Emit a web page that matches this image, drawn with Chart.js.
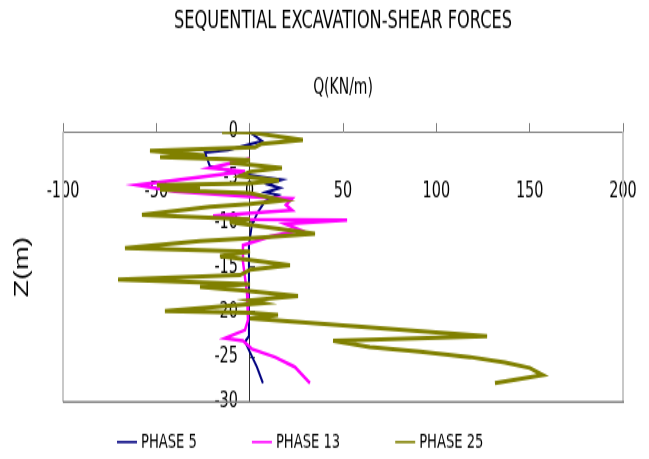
<!DOCTYPE html>
<html>
<head>
<meta charset="utf-8">
<script src="https://cdn.jsdelivr.net/npm/chart.js@4.4.1/dist/chart.umd.min.js"></script>
<style>
  html { margin: 0; padding: 0; background: #fff; overflow: hidden; }
  body { margin: 0; padding: 0; background: #fff; width: 649px; height: 459px; }
  /* the chart is laid out on a shorter canvas and stretched vertically */
  #wrap { width: 649px; height: 328px; transform: scaleY(1.39939); transform-origin: 0 0; }
</style>
</head>
<body>
<div id="wrap"><canvas id="c" width="649" height="328"></canvas></div>
<script>
// Shear force Q (kN/m) against depth Z (m) for three excavation phases
const phase5Depth = [0, -1, -2, -2.3, -3.8, -4.7, -5, -5.3, -5.8, -6.2, -6.7, -7, -7.7, -8.9, -10.3, -12.6, -18.7, -22.7, -23.3, -24.4, -26.1, -27.9];
const phase5Shear = [0, 6.6, -11.6, -23.9, -21.3, -2.5, 6.6, 17.3, 9.8, 16.2, 8.7, 15.2, 8.2, 4.4, 1.2, -0.4, -0.4, -0.4, -2.5, 0, 3.9, 7.1];

const phase13Depth = [-3, -4, -4.4, -5.9, -6.6, -7.2, -7.4, -8.1, -8.7, -8.9, -9.3, -9.7, -9.8, -10.2, -10.9, -11.6, -12.6, -14.4, -17.9, -20.9, -22, -22.9, -23.2, -24.1, -25, -26.1, -27.9];
const phase13Shear = [0, -21.2, -2.5, -60.3, -40, 0, 22.7, 19.4, 22.7, 8.7, -19.6, 0, 52.2, 19, 27, 10.9, -3.6, -3.6, -1.4, -0.9, -2.5, -13.2, -3.6, 1.2, 13.5, 24.2, 32.3];

const phase25Depth = [0, -0.05, -0.9, -1.3, -1.7, -2.1, -2.6, -2.8, -3.1, -3.4, -4.0, -4.4, -4.9, -5.4, -5.7, -5.9, -6.2, -6.4, -6.8, -7.6, -8.0, -8.3, -9.2, -9.7, -10.0, -11.3, -11.8, -12.1, -12.9, -13.3, -13.8, -14.8, -15.3, -15.9, -16.4, -16.9, -17.2, -17.6, -18.2, -18.7, -19.0, -19.9, -20.1, -20.3, -20.7, -22.7, -23.2, -23.9, -24.4, -25.0, -25.6, -26.2, -27.0, -27.9];
const phase25Shear = [-14.8, 0.2, 28.5, 6.6, 2.8, -53.4, -23.9, -48, 0.2, -10.6, 17.3, 0.2, -5.2, 15.7, 0.2, -49.7, -26.6, -48, 0.2, 17.8, 0.2, -21.2, -57.7, 0.2, -10.6, 35, 0.2, -26.6, -66.8, 0.2, -15.9, 21.6, 0.2, -5.2, -70.5, 0.2, -26.6, -4.1, 25.9, 0.2, 7.1, -45.4, 0.2, 15.2, 0.2, 127.2, 44.7, 64.4, 91.2, 118, 136.8, 150, 157.1, 131.4];

const seriesNames = ['PHASE 5', 'PHASE 13', 'PHASE 25'];
const seriesColors = ['#000080', '#ff00ff', '#808000'];

const xTickStep = 50;
const yTickStep = 5;

const NARROW = "'DejaVu Sans Condensed', 'Liberation Sans Narrow', sans-serif";

function toPoints(depth, shear) {
  return depth.map((z, i) => ({ x: shear[i], y: z }));
}

// plot frame: light side borders and a darker base line
const framePlugin = {
  id: 'frame',
  beforeDatasetsDraw(chart) {
    const { ctx, chartArea: a } = chart;
    ctx.save();
    ctx.lineWidth = 2;
    ctx.strokeStyle = '#c8c8c8';
    ctx.beginPath();
    ctx.moveTo(a.left, a.top); ctx.lineTo(a.left, a.bottom);
    ctx.moveTo(a.right, a.top); ctx.lineTo(a.right, a.bottom);
    ctx.stroke();
    ctx.lineWidth = 1.5;
    ctx.strokeStyle = '#808080';
    ctx.beginPath();
    ctx.moveTo(a.left, a.bottom); ctx.lineTo(a.right + 1, a.bottom);
    ctx.stroke();
    ctx.restore();
  }
};

// series key under the plot
const keyPlugin = {
  id: 'seriesKey',
  afterDraw(chart) {
    const { ctx, chartArea: a } = chart;
    const y = chart.height - 12.1;
    let x = a.left + 54;
    ctx.save();
    ctx.font = "14.6px " + NARROW;
    ctx.textBaseline = 'middle';
    ctx.textAlign = 'left';
    chart.data.datasets.forEach(ds => {
      ctx.strokeStyle = ds.borderColor;
      ctx.lineWidth = 1.6;
      ctx.beginPath();
      ctx.moveTo(x, y); ctx.lineTo(x + 20, y);
      ctx.stroke();
      ctx.fillStyle = '#000';
      ctx.fillText(ds.label, x + 24, y);
      x += 24 + ctx.measureText(ds.label).width + 55;
    });
    ctx.restore();
  }
};

const datasets = [
  { label: seriesNames[0], data: toPoints(phase5Depth, phase5Shear), borderColor: seriesColors[0], borderWidth: 2, order: 3 },
  { label: seriesNames[1], data: toPoints(phase13Depth, phase13Shear), borderColor: seriesColors[1], borderWidth: 2.5, order: 2 },
  { label: seriesNames[2], data: toPoints(phase25Depth, phase25Shear), borderColor: seriesColors[2], borderWidth: 3, order: 1 }
].map(d => Object.assign(d, {
  showLine: true, pointRadius: 0, pointHoverRadius: 0, tension: 0, fill: false,
  backgroundColor: d.borderColor, xAxisID: 'x', yAxisID: 'y'
}));

new Chart(document.getElementById('c'), {
  type: 'scatter',
  data: { datasets },
  options: {
    responsive: false,
    animation: false,
    events: [],
    layout: { padding: { top: 0, right: 26, bottom: 40.7, left: 0 } },
    plugins: {
      legend: { display: false },
      tooltip: { enabled: false },
      title: {
        display: true,
        text: 'SEQUENTIAL EXCAVATION-SHEAR FORCES',
        color: '#000',
        fullSize: false,
        font: { family: NARROW, size: 18, weight: 'normal' },
        padding: { top: 4.9, bottom: 13.5 }
      }
    },
    scales: {
      x: {
        type: 'linear',
        position: 'top',
        min: -100,
        max: 200,
        ticks: { stepSize: xTickStep, mirror: true, padding: 33.2, color: '#000', font: { family: NARROW, size: 16 } },
        grid: { drawOnChartArea: false, drawTicks: true, tickLength: 6.4, color: '#7f7f7f' },
        border: { display: true, color: '#7f7f7f', width: 1 },
        title: { display: true, text: 'Q(KN/m)', color: '#000', font: { family: NARROW, size: 15.5 }, padding: { top: 14, bottom: 0 } },
        afterFit(s) { s.height = 54.3; s.paddingLeft = 0; s.paddingRight = 0; }
      },
      y: {
        type: 'linear',
        position: { x: 0 },
        min: -30,
        max: 0,
        ticks: { stepSize: yTickStep, color: '#000', font: { family: NARROW, size: 16 }, callback: v => v + '\u2002 ' },
        grid: { drawOnChartArea: false, drawTicks: true, tickLength: -6, color: '#555' },
        border: { display: true, color: '#333', width: 1 }
      },
      yTitle: {
        type: 'linear',
        position: 'left',
        min: -30,
        max: 0,
        ticks: { display: false },
        grid: { display: false, drawTicks: false },
        border: { display: false },
        title: { display: true, text: 'Z(m)', color: '#000', font: { family: "'Liberation Sans', Arial, sans-serif", size: 20.5 }, padding: { top: 9.7, bottom: 0 } },
        afterFit(s) { s.width = 63; }
      }
    }
  },
  plugins: [framePlugin, keyPlugin]
});
</script>
</body>
</html>
